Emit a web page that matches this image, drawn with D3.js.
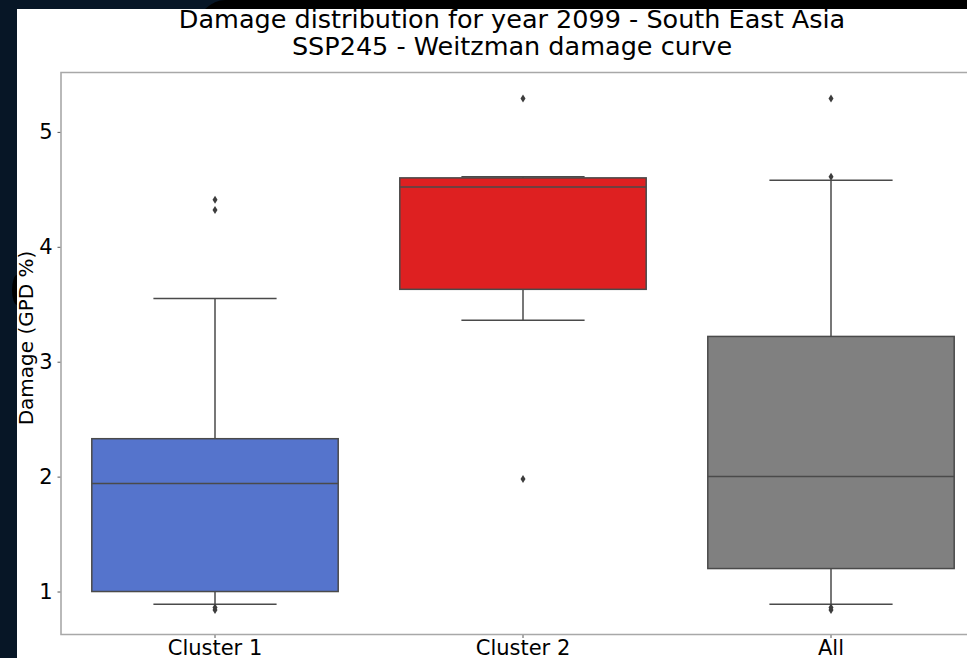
<!DOCTYPE html>
<html>
<head>
<meta charset="utf-8">
<script src="https://cdn.jsdelivr.net/npm/d3@7"></script>
<style>
  html, body { margin: 0; padding: 0; background: #071626; }
  svg { display: block; }
  text { font-family: "DejaVu Sans", sans-serif; fill: #000; }
</style>
</head>
<body>
<svg id="chart" width="967" height="658"></svg>
<script>
// Summary statistics per group (damage, % of GDP)
const categories   = ["Cluster 1", "Cluster 2", "All"];
const boxColors    = ["#5574cc", "#de2021", "#808080"];
const whiskerLow   = [0.89, 3.36, 0.89];
const q1           = [1.00, 3.63, 1.20];
const median       = [1.94, 4.52, 2.00];
const q3           = [2.33, 4.60, 3.22];
const whiskerHigh  = [3.55, 4.61, 4.58];
const outliers     = [[0.84, 0.86, 4.32, 4.41], [1.98, 5.29], [0.84, 0.86, 4.61, 5.29]];
const yTicks       = [1, 2, 3, 4, 5];

const titleLines = ["Damage distribution for year 2099 - South East Asia",
                    "SSP245 - Weitzman damage curve"];
const yLabel = "Damage (GPD %)";

const svg = d3.select("#chart");

// window chrome behind the figure
svg.append("rect").attr("x", 0).attr("y", 0).attr("width", 967).attr("height", 658).attr("fill", "#071626");
svg.append("path").attr("d", "M225,0 H967 V9 H205 Q215,0 225,0 Z").attr("fill", "#000");
svg.append("ellipse").attr("cx", 17).attr("cy", 290).attr("rx", 5).attr("ry", 15).attr("fill", "#000");

// figure canvas
svg.append("rect").attr("x", 17).attr("y", 9).attr("width", 950).attr("height", 649).attr("fill", "#fff");

const plot = { left: 61, right: 985, top: 72.5, bottom: 634.5 };

const x = d3.scaleBand().domain(categories).range([plot.left, plot.right]).padding(0);
const y = d3.scaleLinear().domain([0.626, 5.517]).range([plot.bottom, plot.top]);

const boxW = x.bandwidth() * 0.8;
const capW = boxW / 2;
const lineColor = "#4a4a4a";

const g = svg.append("g");

categories.forEach((c, i) => {
  const cx = x(c) + x.bandwidth() / 2;
  // whiskers
  g.append("line").attr("x1", cx).attr("x2", cx).attr("y1", y(q3[i])).attr("y2", y(whiskerHigh[i]))
    .attr("stroke", lineColor).attr("stroke-width", 1.5);
  g.append("line").attr("x1", cx).attr("x2", cx).attr("y1", y(q1[i])).attr("y2", y(whiskerLow[i]))
    .attr("stroke", lineColor).attr("stroke-width", 1.5);
  // caps
  [whiskerLow[i], whiskerHigh[i]].forEach(v => {
    g.append("line").attr("x1", cx - capW / 2).attr("x2", cx + capW / 2).attr("y1", y(v)).attr("y2", y(v))
      .attr("stroke", lineColor).attr("stroke-width", 1.5);
  });
  // box
  g.append("rect").attr("x", cx - boxW / 2).attr("width", boxW)
    .attr("y", y(q3[i])).attr("height", y(q1[i]) - y(q3[i]))
    .attr("fill", boxColors[i]).attr("stroke", lineColor).attr("stroke-width", 1.5);
  // median
  g.append("line").attr("x1", cx - boxW / 2).attr("x2", cx + boxW / 2)
    .attr("y1", y(median[i])).attr("y2", y(median[i]))
    .attr("stroke", lineColor).attr("stroke-width", 1.5);
  // fliers (thin diamonds)
  outliers[i].forEach(v => {
    const py = y(v);
    g.append("path").attr("d", `M${cx},${py - 4} L${cx + 2.5},${py} L${cx},${py + 4} L${cx - 2.5},${py} Z`)
      .attr("fill", "#3d3d3d");
  });
});

// axes
const yAxis = d3.axisLeft(y).tickValues(yTicks).tickFormat(d3.format("d")).tickSize(3.5).tickPadding(5);
const yG = svg.append("g").attr("transform", `translate(${plot.left},0)`).call(yAxis);
const xAxis = d3.axisBottom(x).tickSize(3.5).tickPadding(2);
const xG = svg.append("g").attr("transform", `translate(0,${plot.bottom})`).call(xAxis);
[yG, xG].forEach(a => {
  a.select(".domain").remove();
  a.selectAll(".tick line").attr("stroke", "#555").attr("stroke-width", 1);
  a.selectAll(".tick text").attr("font-size", 21).attr("font-family", "DejaVu Sans, sans-serif").attr("fill", "#000");
});

// spines (top, left, bottom)
svg.append("path")
  .attr("d", `M${plot.right},${plot.top} H${plot.left} V${plot.bottom} H${plot.right}`)
  .attr("fill", "none").attr("stroke", "#a8a8a8").attr("stroke-width", 1.6);

// title
titleLines.forEach((t, k) => {
  svg.append("text").attr("x", 512).attr("y", 28 + k * 27).attr("text-anchor", "middle")
    .attr("font-size", 25.5).text(t);
});

// y label
svg.append("text")
  .attr("transform", `translate(33,338) rotate(-90)`)
  .attr("text-anchor", "middle").attr("font-size", 20).text(yLabel);
</script>
</body>
</html>
